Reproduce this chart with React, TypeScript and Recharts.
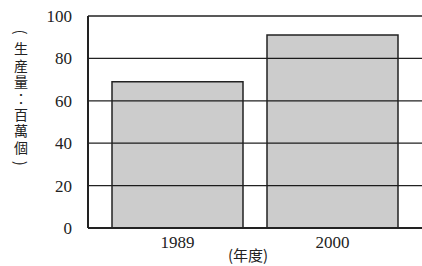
import React from "react";
import { BarChart, Bar, XAxis, YAxis, CartesianGrid } from "recharts";

const years = ["1989", "2000"];
const production = [69, 91];
const yTicks = [0, 20, 40, 60, 80, 100];
const yLabel = "(生産量：百萬個)";
const xLabel = "(年度)";

const data = years.map((y, i) => ({ year: y, value: production[i] }));

const FONT = "Liberation Serif, DejaVu Serif, serif";
const CJK = "Noto Sans CJK TC, Noto Sans CJK JP, sans-serif";

const VerticalLabel = () => {
  const chars = Array.from(yLabel);
  const x = 21;
  const startY = 32;
  const step = 16.4;
  return (
    <g>
      {chars.map((c, i) => {
        const isParen = c === "(" || c === ")";
        const y = startY + i * step;
        return (
          <text
            key={i}
            x={x}
            y={y}
            transform={isParen ? `rotate(90 ${x} ${y})` : undefined}
            textAnchor="middle"
            dominantBaseline="central"
            style={{ fontSize: isParen ? 15 : 14, fontFamily: CJK, fill: "#222" }}
          >
            {c}
          </text>
        );
      })}
    </g>
  );
};

const XLabel = (props: any) => {
  const { viewBox } = props;
  const cx = viewBox.x + viewBox.width / 2 - 7;
  return (
    <text
      x={cx}
      y={254}
      textAnchor="middle"
      dominantBaseline="central"
      style={{ fontSize: 15, fontFamily: CJK, fill: "#222" }}
    >
      {xLabel}
    </text>
  );
};

export default function App() {
  return (
    <div style={{ position: "absolute", left: 0, top: 0, background: "#fff" }}>
      <BarChart
        width={422}
        height={266}
        data={data}
        margin={{ top: 16, right: 0, bottom: 0, left: 0 }}
        barCategoryGap={0}
      >
        <CartesianGrid vertical={false} stroke="#222" strokeWidth={1.3} />
        <XAxis
          dataKey="year"
          height={38}
          padding={{ left: 12, right: 12 }}
          axisLine={{ stroke: "#222", strokeWidth: 2 }}
          tickLine={false}
          tick={{ fontSize: 17, fontFamily: FONT, fill: "#222", style: { fontFamily: FONT } } as any}
          tickMargin={2}
          label={<XLabel />}
        />
        <YAxis
          width={88}
          domain={[0, 100]}
          ticks={yTicks}
          interval={0}
          axisLine={{ stroke: "#222", strokeWidth: 2 }}
          tickLine={false}
          tickMargin={10}
          tick={{ fontSize: 17, fontFamily: FONT, fill: "#222", style: { fontFamily: FONT } } as any}
          label={<VerticalLabel />}
        />
        <Bar
          dataKey="value"
          barSize={131}
          fill="#000"
          fillOpacity={0.2}
          stroke="#222"
          strokeWidth={1.5}
          isAnimationActive={false}
        />
      </BarChart>
    </div>
  );
}
